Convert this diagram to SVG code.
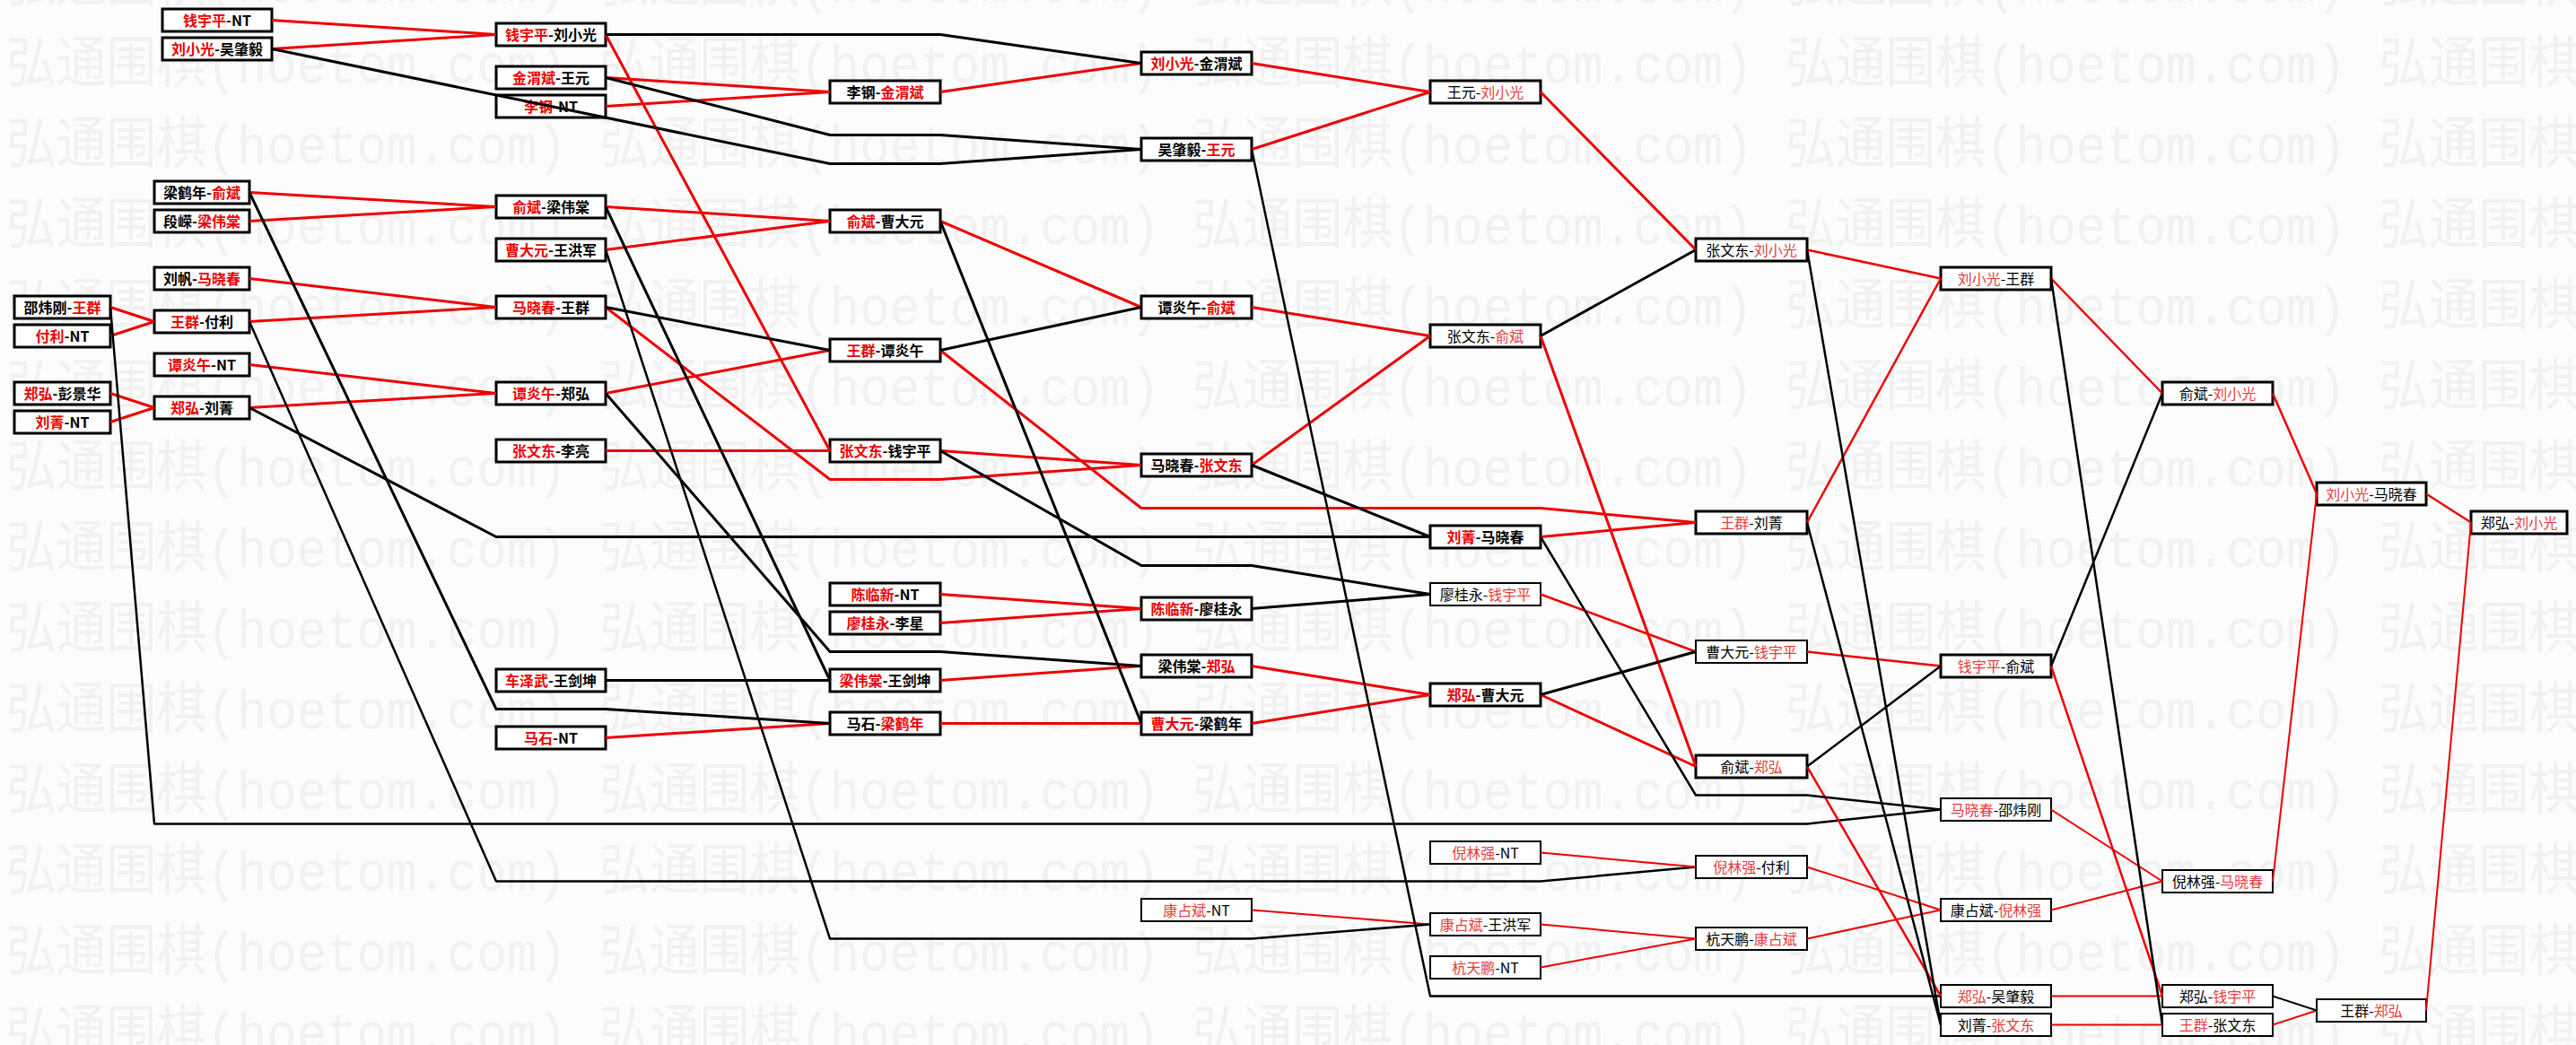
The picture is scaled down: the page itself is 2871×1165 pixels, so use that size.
<svg xmlns="http://www.w3.org/2000/svg" width="2871" height="1165" viewBox="0 0 2871 1165">
<style>
.bx{fill:#fff;stroke:#000;stroke-width:3}
.t{stroke-width:2}
.lb{font-family:"Noto Sans CJK SC","Liberation Sans",sans-serif;font-size:16px;text-anchor:middle;fill:#000}
.h{font-weight:bold}
.w{fill:#ee0000}
.lb.l .w{fill:#e63b3b}
.cr{fill:none;stroke:#ee0000;stroke-width:3;stroke-linejoin:round}
.ck{fill:none;stroke:#000;stroke-width:3;stroke-linejoin:round}
.m{stroke-width:2.5}
.n{stroke-width:2}
.wm{font-family:"Liberation Mono","Noto Sans CJK SC",monospace;font-size:62px;fill:#f1f1f1}
</style>
<defs>
<pattern id="wmp" patternUnits="userSpaceOnUse" x="7" y="30" width="661" height="90">
<text x="0" y="62" class="wm" textLength="625" lengthAdjust="spacingAndGlyphs">弘通围棋(hoetom.com)</text>
</pattern>
</defs>
<rect width="2871" height="1165" fill="#fcfcfc"/>
<rect width="2871" height="1165" fill="url(#wmp)"/>

<g id="nodes">
<g id="n01"><rect class="bx" x="16" y="330" width="107" height="25"/><text class="lb h" x="69.5" y="349">邵炜刚-<tspan class="w">王群</tspan></text></g>
<g id="n02"><rect class="bx" x="16" y="362" width="107" height="25"/><text class="lb h" x="69.5" y="381"><tspan class="w">付利</tspan>-NT</text></g>
<g id="n03"><rect class="bx" x="16" y="426" width="107" height="25"/><text class="lb h" x="69.5" y="445"><tspan class="w">郑弘</tspan>-彭景华</text></g>
<g id="n04"><rect class="bx" x="16" y="458" width="107" height="25"/><text class="lb h" x="69.5" y="477"><tspan class="w">刘菁</tspan>-NT</text></g>

<g id="n05"><rect class="bx" x="181" y="10" width="122" height="25"/><text class="lb h" x="242" y="29"><tspan class="w">钱宇平</tspan>-NT</text></g>
<g id="n06"><rect class="bx" x="181" y="42" width="122" height="25"/><text class="lb h" x="242" y="61"><tspan class="w">刘小光</tspan>-吴肇毅</text></g>
<g id="n07"><rect class="bx" x="172" y="202" width="106" height="25"/><text class="lb h" x="225" y="221">梁鹤年-<tspan class="w">俞斌</tspan></text></g>
<g id="n08"><rect class="bx" x="172" y="234" width="106" height="25"/><text class="lb h" x="225" y="253">段嵘-<tspan class="w">梁伟棠</tspan></text></g>
<g id="n09"><rect class="bx" x="172" y="298" width="106" height="25"/><text class="lb h" x="225" y="317">刘帆-<tspan class="w">马晓春</tspan></text></g>
<g id="n10"><rect class="bx" x="172" y="346" width="106" height="25"/><text class="lb h" x="225" y="365"><tspan class="w">王群</tspan>-付利</text></g>
<g id="n11"><rect class="bx" x="172" y="394" width="106" height="25"/><text class="lb h" x="225" y="413"><tspan class="w">谭炎午</tspan>-NT</text></g>
<g id="n12"><rect class="bx" x="172" y="442" width="106" height="25"/><text class="lb h" x="225" y="461"><tspan class="w">郑弘</tspan>-刘菁</text></g>

<g id="n13"><rect class="bx" x="553" y="26" width="122" height="25"/><text class="lb h" x="614" y="45"><tspan class="w">钱宇平</tspan>-刘小光</text></g>
<g id="n14"><rect class="bx" x="553" y="74" width="122" height="25"/><text class="lb h" x="614" y="93"><tspan class="w">金渭斌</tspan>-王元</text></g>
<g id="n15"><rect class="bx" x="553" y="106" width="122" height="25"/><text class="lb h" x="614" y="125"><tspan class="w">李钢</tspan>-NT</text></g>
<g id="n16"><rect class="bx" x="553" y="218" width="122" height="25"/><text class="lb h" x="614" y="237"><tspan class="w">俞斌</tspan>-梁伟棠</text></g>
<g id="n17"><rect class="bx" x="553" y="266" width="122" height="25"/><text class="lb h" x="614" y="285"><tspan class="w">曹大元</tspan>-王洪军</text></g>
<g id="n18"><rect class="bx" x="553" y="330" width="122" height="25"/><text class="lb h" x="614" y="349"><tspan class="w">马晓春</tspan>-王群</text></g>
<g id="n19"><rect class="bx" x="553" y="426" width="122" height="25"/><text class="lb h" x="614" y="445"><tspan class="w">谭炎午</tspan>-郑弘</text></g>
<g id="n20"><rect class="bx" x="553" y="490" width="122" height="25"/><text class="lb h" x="614" y="509"><tspan class="w">张文东</tspan>-李亮</text></g>
<g id="n21"><rect class="bx" x="553" y="746" width="122" height="25"/><text class="lb h" x="614" y="765"><tspan class="w">车泽武</tspan>-王剑坤</text></g>
<g id="n22"><rect class="bx" x="553" y="810" width="122" height="25"/><text class="lb h" x="614" y="829"><tspan class="w">马石</tspan>-NT</text></g>

<g id="n23"><rect class="bx" x="925" y="90" width="123" height="25"/><text class="lb h" x="986.5" y="109">李钢-<tspan class="w">金渭斌</tspan></text></g>
<g id="n24"><rect class="bx" x="925" y="234" width="123" height="25"/><text class="lb h" x="986.5" y="253"><tspan class="w">俞斌</tspan>-曹大元</text></g>
<g id="n25"><rect class="bx" x="925" y="378" width="123" height="25"/><text class="lb h" x="986.5" y="397"><tspan class="w">王群</tspan>-谭炎午</text></g>
<g id="n26"><rect class="bx" x="925" y="490" width="123" height="25"/><text class="lb h" x="986.5" y="509"><tspan class="w">张文东</tspan>-钱宇平</text></g>
<g id="n27"><rect class="bx" x="925" y="650" width="123" height="25"/><text class="lb h" x="986.5" y="669"><tspan class="w">陈临新</tspan>-NT</text></g>
<g id="n28"><rect class="bx" x="925" y="682" width="123" height="25"/><text class="lb h" x="986.5" y="701"><tspan class="w">廖桂永</tspan>-李星</text></g>
<g id="n29"><rect class="bx" x="925" y="746" width="123" height="25"/><text class="lb h" x="986.5" y="765"><tspan class="w">梁伟棠</tspan>-王剑坤</text></g>
<g id="n30"><rect class="bx" x="925" y="794" width="123" height="25"/><text class="lb h" x="986.5" y="813">马石-<tspan class="w">梁鹤年</tspan></text></g>

<g id="n31"><rect class="bx" x="1272" y="58" width="123" height="25"/><text class="lb h" x="1333.5" y="77"><tspan class="w">刘小光</tspan>-金渭斌</text></g>
<g id="n32"><rect class="bx" x="1272" y="154" width="123" height="25"/><text class="lb h" x="1333.5" y="173">吴肇毅-<tspan class="w">王元</tspan></text></g>
<g id="n33"><rect class="bx" x="1272" y="330" width="123" height="25"/><text class="lb h" x="1333.5" y="349">谭炎午-<tspan class="w">俞斌</tspan></text></g>
<g id="n34"><rect class="bx" x="1272" y="506" width="123" height="25"/><text class="lb h" x="1333.5" y="525">马晓春-<tspan class="w">张文东</tspan></text></g>
<g id="n35"><rect class="bx" x="1272" y="666" width="123" height="25"/><text class="lb h" x="1333.5" y="685"><tspan class="w">陈临新</tspan>-廖桂永</text></g>
<g id="n36"><rect class="bx" x="1272" y="730" width="123" height="25"/><text class="lb h" x="1333.5" y="749">梁伟棠-<tspan class="w">郑弘</tspan></text></g>
<g id="n37"><rect class="bx" x="1272" y="794" width="123" height="25"/><text class="lb h" x="1333.5" y="813"><tspan class="w">曹大元</tspan>-梁鹤年</text></g>
<g id="n38"><rect class="bx t" x="1272" y="1002" width="123" height="25"/><text class="lb l" x="1333.5" y="1021"><tspan class="w">康占斌</tspan>-NT</text></g>

<g id="n39"><rect class="bx" x="1594" y="90" width="123" height="25"/><text class="lb l" x="1655.5" y="109">王元-<tspan class="w">刘小光</tspan></text></g>
<g id="n40"><rect class="bx" x="1594" y="362" width="123" height="25"/><text class="lb l" x="1655.5" y="381">张文东-<tspan class="w">俞斌</tspan></text></g>
<g id="n41"><rect class="bx" x="1594" y="586" width="123" height="25"/><text class="lb h" x="1655.5" y="605"><tspan class="w">刘菁</tspan>-马晓春</text></g>
<g id="n42"><rect class="bx t" x="1594" y="650" width="123" height="25"/><text class="lb l" x="1655.5" y="669">廖桂永-<tspan class="w">钱宇平</tspan></text></g>
<g id="n43"><rect class="bx" x="1594" y="762" width="123" height="25"/><text class="lb h" x="1655.5" y="781"><tspan class="w">郑弘</tspan>-曹大元</text></g>
<g id="n44"><rect class="bx t" x="1594" y="938" width="123" height="25"/><text class="lb l" x="1655.5" y="957"><tspan class="w">倪林强</tspan>-NT</text></g>
<g id="n45"><rect class="bx t" x="1594" y="1018" width="123" height="25"/><text class="lb l" x="1655.5" y="1037"><tspan class="w">康占斌</tspan>-王洪军</text></g>
<g id="n46"><rect class="bx t" x="1594" y="1066" width="123" height="25"/><text class="lb l" x="1655.5" y="1085"><tspan class="w">杭天鹏</tspan>-NT</text></g>

<g id="n47"><rect class="bx" x="1890" y="266" width="124" height="25"/><text class="lb l" x="1952" y="285">张文东-<tspan class="w">刘小光</tspan></text></g>
<g id="n48"><rect class="bx" x="1890" y="570" width="124" height="25"/><text class="lb l" x="1952" y="589"><tspan class="w">王群</tspan>-刘菁</text></g>
<g id="n49"><rect class="bx t" x="1890" y="714" width="124" height="25"/><text class="lb l" x="1952" y="733">曹大元-<tspan class="w">钱宇平</tspan></text></g>
<g id="n50"><rect class="bx" x="1890" y="842" width="124" height="25"/><text class="lb l" x="1952" y="861">俞斌-<tspan class="w">郑弘</tspan></text></g>
<g id="n51"><rect class="bx t" x="1890" y="954" width="124" height="25"/><text class="lb l" x="1952" y="973"><tspan class="w">倪林强</tspan>-付利</text></g>
<g id="n52"><rect class="bx t" x="1890" y="1034" width="124" height="25"/><text class="lb l" x="1952" y="1053">杭天鹏-<tspan class="w">康占斌</tspan></text></g>

<g id="n53"><rect class="bx" x="2163" y="298" width="123" height="25"/><text class="lb l" x="2224.5" y="317"><tspan class="w">刘小光</tspan>-王群</text></g>
<g id="n54"><rect class="bx" x="2163" y="730" width="123" height="25"/><text class="lb l" x="2224.5" y="749"><tspan class="w">钱宇平</tspan>-俞斌</text></g>
<g id="n55"><rect class="bx t" x="2163" y="890" width="123" height="25"/><text class="lb l" x="2224.5" y="909"><tspan class="w">马晓春</tspan>-邵炜刚</text></g>
<g id="n56"><rect class="bx t" x="2163" y="1002" width="123" height="25"/><text class="lb l" x="2224.5" y="1021">康占斌-<tspan class="w">倪林强</tspan></text></g>
<g id="n57"><rect class="bx t" x="2163" y="1098" width="123" height="25"/><text class="lb l" x="2224.5" y="1117"><tspan class="w">郑弘</tspan>-吴肇毅</text></g>
<g id="n58"><rect class="bx t" x="2163" y="1130" width="123" height="25"/><text class="lb l" x="2224.5" y="1149">刘菁-<tspan class="w">张文东</tspan></text></g>

<g id="n59"><rect class="bx" x="2410" y="426" width="123" height="25"/><text class="lb l" x="2471.5" y="445">俞斌-<tspan class="w">刘小光</tspan></text></g>
<g id="n60"><rect class="bx t" x="2410" y="970" width="123" height="25"/><text class="lb l" x="2471.5" y="989">倪林强-<tspan class="w">马晓春</tspan></text></g>
<g id="n61"><rect class="bx t" x="2410" y="1098" width="123" height="25"/><text class="lb l" x="2471.5" y="1117">郑弘-<tspan class="w">钱宇平</tspan></text></g>
<g id="n62"><rect class="bx t" x="2410" y="1130" width="123" height="25"/><text class="lb l" x="2471.5" y="1149"><tspan class="w">王群</tspan>-张文东</text></g>

<g id="n63"><rect class="bx" x="2582" y="538" width="122" height="25"/><text class="lb l" x="2643" y="557"><tspan class="w">刘小光</tspan>-马晓春</text></g>
<g id="n64"><rect class="bx t" x="2582" y="1114" width="122" height="25"/><text class="lb l" x="2643" y="1133">王群-<tspan class="w">郑弘</tspan></text></g>

<g id="n65"><rect class="bx" x="2754" y="570" width="107" height="25"/><text class="lb l" x="2807.5" y="589">郑弘-<tspan class="w">刘小光</tspan></text></g>
</g>

<g id="connectors">
<path class="cr" d="M123 342.5L172 358.5"/>
<path class="cr" d="M123 374.5L172 358.5"/>
<path class="cr" d="M123 438.5L172 454.5"/>
<path class="cr" d="M123 470.5L172 454.5"/>
<path class="cr" d="M303 22.5L553 38.5"/>
<path class="cr" d="M303 54.5L553 38.5"/>
<path class="cr" d="M278 214.5L553 230.5"/>
<path class="cr" d="M278 246.5L553 230.5"/>
<path class="cr" d="M278 310.5L553 342.5"/>
<path class="cr" d="M278 358.5L553 342.5"/>
<path class="cr" d="M278 406.5L553 438.5"/>
<path class="cr" d="M278 454.5L553 438.5"/>
<path class="cr" d="M675 86.5L925 102.5"/>
<path class="cr" d="M675 118.5L925 102.5"/>
<path class="cr" d="M675 38.5L925 502.5"/>
<path class="cr" d="M675 230.5L925 246.5"/>
<path class="cr" d="M675 278.5L925 246.5"/>
<path class="cr" d="M675 438.5L925 390.5"/>
<path class="cr" d="M675 342.5L925 534.5L1048 534.5L1272 518.5"/>
<path class="cr" d="M675 502.5L925 502.5"/>
<path class="cr" d="M675 822.5L925 806.5"/>
<path class="cr" d="M1048 102.5L1272 70.5"/>
<path class="cr" d="M1048 246.5L1272 342.5"/>
<path class="cr" d="M1048 390.5L1272 566.5L1717 566.5L1890 582.5"/>
<path class="cr" d="M1048 502.5L1272 518.5"/>
<path class="cr" d="M1048 662.5L1272 678.5"/>
<path class="cr" d="M1048 694.5L1272 678.5"/>
<path class="cr" d="M1048 758.5L1272 742.5"/>
<path class="cr" d="M1048 806.5L1272 806.5"/>
<path class="cr" d="M1395 70.5L1594 102.5"/>
<path class="cr" d="M1395 166.5L1594 102.5"/>
<path class="cr" d="M1395 342.5L1594 374.5"/>
<path class="cr" d="M1395 518.5L1594 374.5"/>
<path class="cr" d="M1395 742.5L1594 774.5"/>
<path class="cr" d="M1395 806.5L1594 774.5"/>
<path class="cr n" d="M1395 1014.5L1594 1030.5"/>

<path class="ck" d="M675 38.5L1048 38.5L1272 70.5"/>
<path class="ck" d="M675 86.5L925 150.5L1048 150.5L1272 166.5"/>
<path class="ck" d="M303 54.5L925 182.5L1048 182.5L1272 166.5"/>
<path class="ck" d="M278 214.5L553 790.5L675 790.5L925 806.5"/>
<path class="ck" d="M675 230.5L925 758.5"/>
<path class="ck m" d="M675 278.5L925 1046.5L1395 1046.5L1594 1030.5"/>
<path class="ck" d="M675 342.5L925 390.5"/>
<path class="ck" d="M675 438.5L925 726.5L1048 726.5L1272 742.5"/>
<path class="ck" d="M278 454.5L553 598.5L1594 598.5"/>
<path class="ck" d="M675 758.5L925 758.5"/>
<path class="ck" d="M1048 246.5L1272 806.5"/>
<path class="ck" d="M1048 390.5L1272 342.5"/>
<path class="ck" d="M1048 502.5L1272 630.5L1395 630.5L1594 662.5"/>
<path class="ck m" d="M1395 166.5L1594 1110.5L2163 1110.5"/>
<path class="ck" d="M1395 518.5L1594 598.5"/>
<path class="ck" d="M1395 678.5L1594 662.5"/>
<path class="ck m" d="M123 342.5L172 918.5L2014 918.5L2163 902.5"/>
<path class="ck m" d="M278 358.5L553 982.5L1717 982.5L1890 966.5"/>

<path class="cr" d="M1717 102.5L1890 278.5"/>
<path class="cr" d="M1717 374.5L1890 854.5"/>
<path class="cr" d="M1717 598.5L1890 582.5"/>
<path class="cr m" d="M1717 662.5L1890 726.5"/>
<path class="cr" d="M1717 774.5L1890 854.5"/>
<path class="cr n" d="M1717 950.5L1890 966.5"/>
<path class="cr n" d="M1717 1030.5L1890 1046.5"/>
<path class="cr n" d="M1717 1078.5L1890 1046.5"/>
<path class="cr m" d="M2014 278.5L2163 310.5"/>
<path class="cr m" d="M2014 582.5L2163 310.5"/>
<path class="cr m" d="M2014 726.5L2163 742.5"/>
<path class="cr m" d="M2014 854.5L2163 1110.5"/>
<path class="cr n" d="M2014 966.5L2163 1014.5"/>
<path class="cr n" d="M2014 1046.5L2163 1014.5"/>
<path class="cr m" d="M2286 310.5L2410 438.5"/>
<path class="cr m" d="M2286 742.5L2410 1110.5"/>
<path class="cr n" d="M2286 902.5L2410 982.5"/>
<path class="cr n" d="M2286 1014.5L2410 982.5"/>
<path class="cr n" d="M2286 1110.5L2410 1110.5"/>
<path class="cr n" d="M2286 1142.5L2410 1142.5"/>
<path class="cr m" d="M2533 438.5L2582 550.5"/>
<path class="cr n" d="M2533 982.5L2582 550.5"/>
<path class="cr n" d="M2533 1142.5L2582 1126.5"/>
<path class="cr m" d="M2704 550.5L2754 582.5"/>
<path class="cr n" d="M2704 1126.5L2754 582.5"/>

<path class="ck" d="M1717 374.5L1890 278.5"/>
<path class="ck m" d="M1717 598.5L1890 886.5L2014 886.5L2163 902.5"/>
<path class="ck" d="M1717 774.5L1890 726.5"/>
<path class="ck m" d="M2014 278.5L2163 1142.5"/>
<path class="ck m" d="M2014 582.5L2163 1142.5"/>
<path class="ck m" d="M2014 854.5L2163 742.5"/>
<path class="ck m" d="M2286 310.5L2410 1142.5"/>
<path class="ck m" d="M2286 742.5L2410 438.5"/>
<path class="ck n" d="M2533 1110.5L2582 1126.5"/>
</g>
</svg>
